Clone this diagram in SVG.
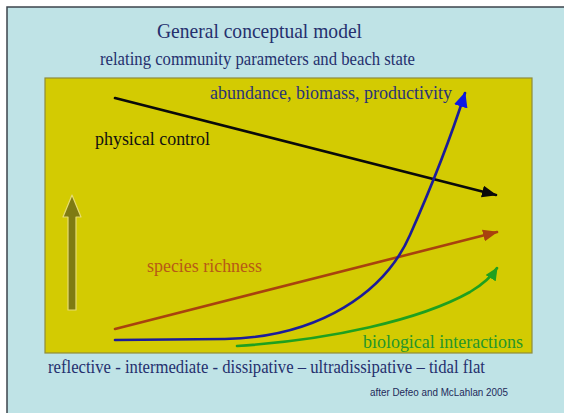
<svg xmlns="http://www.w3.org/2000/svg" width="564" height="413" viewBox="0 0 564 413">
<style>
.serif{font-family:"Liberation Serif","Times New Roman",serif}
.sans{font-family:"Liberation Sans",Arial,sans-serif}
.navy{fill:#25306e}
.line{fill:none;stroke-width:2.6;stroke-linecap:round}
</style>
<defs>
<marker id="mBlack" markerUnits="userSpaceOnUse" markerWidth="16" markerHeight="12" refX="14" refY="6" orient="auto"><path d="M0,0 L15,6 L0,12 Z" fill="#0a0a0a"/></marker>
<marker id="mBrown" markerUnits="userSpaceOnUse" markerWidth="16" markerHeight="12" refX="14" refY="6" orient="auto"><path d="M0,0 L15,6 L0,12 Z" fill="#a8420e"/></marker>
<marker id="mBlue" markerUnits="userSpaceOnUse" markerWidth="16" markerHeight="14" refX="14" refY="7" orient="auto"><path d="M0,0 L15,7 L0,14 Z" fill="#0c18e6"/></marker>
<marker id="mGreen" markerUnits="userSpaceOnUse" markerWidth="14" markerHeight="12" refX="12" refY="6" orient="auto"><path d="M0,0 L13,6 L0,12 Z" fill="#1fa01f"/></marker>
</defs>
<rect x="0" y="0" width="564" height="413" fill="#ffffff"/>
<rect x="7" y="7" width="570" height="420" fill="#bfe3e6" stroke="#3c444c" stroke-width="1.5"/>
<g id="title">
<text class="serif navy" x="157" y="38" font-size="22" textLength="205" lengthAdjust="spacingAndGlyphs">General conceptual model</text>
<text class="serif navy" x="100" y="65" font-size="18" textLength="315" lengthAdjust="spacingAndGlyphs">relating community parameters and beach state</text>
</g>
<g id="panel">
<rect x="45" y="78" width="487" height="275" fill="#d3cb02" stroke="#8f8c3a" stroke-width="1.2"/>
</g>
<g id="axis-arrow">
<path d="M68,310 L68,217 L63,217 L72,195 L81,217 L76,217 L76,310 Z" fill="#7f7b12" stroke="#e6dc72" stroke-width="1.2" stroke-linejoin="round"/>
</g>
<g id="connectors">
<path class="line" d="M115,98 L496,195" stroke="#0a0a0a" marker-end="url(#mBlack)"/>
<path class="line" d="M115,329 L497,232" stroke="#a8420e" marker-end="url(#mBrown)"/>
<path class="line" d="M115,340 L225,339 C320,337 385,292 410,235 C430,190 450,140 465,93" stroke="#1c1c9a" marker-end="url(#mBlue)"/>
<path class="line" d="M237,346 C330,340 420,320 470,292 C485,283 492,276 497,268" stroke="#1fa01f" marker-end="url(#mGreen)"/>
</g>
<g id="label-abundance">
<text class="serif" x="210" y="99" font-size="18" fill="#2a3478" textLength="242" lengthAdjust="spacingAndGlyphs">abundance, biomass, productivity</text>
</g>
<g id="label-physical">
<text class="serif" x="95" y="145" font-size="18" fill="#111111" textLength="115" lengthAdjust="spacingAndGlyphs">physical control</text>
</g>
<g id="label-species">
<text class="serif" x="147" y="272" font-size="18" fill="#b85a16" textLength="115" lengthAdjust="spacingAndGlyphs">species richness</text>
</g>
<g id="label-biological">
<text class="serif" x="363" y="348" font-size="18" fill="#25962a" textLength="160" lengthAdjust="spacingAndGlyphs">biological interactions</text>
</g>
<g id="label-states">
<text class="serif navy" x="48" y="373" font-size="19" textLength="437" lengthAdjust="spacingAndGlyphs">reflective - intermediate - dissipative – ultradissipative – tidal flat</text>
</g>
<g id="credit">
<text class="sans" x="370" y="396" font-size="10" fill="#1e2a5a" textLength="138" lengthAdjust="spacingAndGlyphs">after Defeo and McLahlan 2005</text>
</g>
</svg>
